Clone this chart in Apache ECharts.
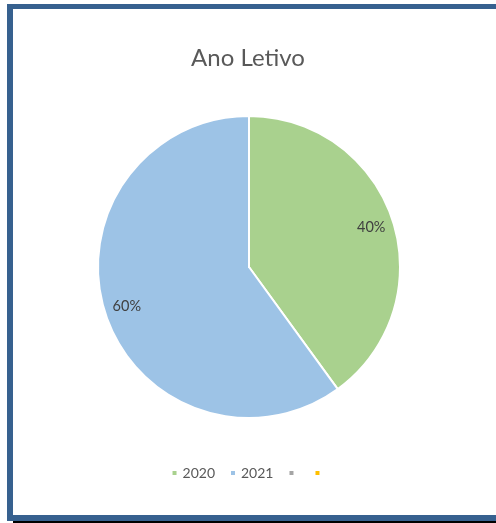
<!DOCTYPE html>
<html>
<head>
<meta charset="utf-8">
<script src="https://cdn.jsdelivr.net/npm/echarts@6/dist/echarts.min.js"></script>
<style>
html,body{margin:0;padding:0;background:#fff;overflow:hidden;}
#chart{position:absolute;left:0;top:0;width:496px;height:523px;}
.b{position:absolute;background:#37618F;}
</style>
</head>
<body>
<div id="chart"></div>
<div class="b" style="left:7px;top:4px;width:489px;height:5px;"></div>
<div class="b" style="left:7px;top:4px;width:6px;height:517px;"></div>
<div class="b" style="left:7px;top:515px;width:489px;height:6px;"></div>
<div style="position:absolute;left:13px;top:521px;width:483px;height:2px;background:#000;"></div>
<script>
const categories = ['2020', '2021', 'Série 3', 'Série 4'];
const legendLabels = ['2020', '2021', '\u200B', '\u200B'];
const values = [40, 60, 0, 0];
const colors = ['#A9D18E', '#9DC3E6', '#A5A5A5', '#FFC000'];

const chart = echarts.init(document.getElementById('chart'));
const font = 'Lato, "Liberation Sans", sans-serif';
const pieData = categories.map((c, i) => ({
  name: c, value: values[i], itemStyle: { color: colors[i] }
}));
chart.setOption({
  animation: false,
  title: {
    text: 'Ano Letivo', left: 'center', top: 41,
    textStyle: { fontFamily: font, fontWeight: 'normal', fontSize: 24, color: '#595959' }
  },
  legend: {
    data: categories, bottom: 38, left: 'center',
    itemWidth: 6, itemHeight: 6, itemGap: 14, icon: 'rect',
    formatter: name => legendLabels[categories.indexOf(name)],
    textStyle: { fontFamily: font, fontSize: 14, color: '#595959' },
    selectedMode: false
  },
  series: [{
    type: 'pie', center: [249, 267], radius: [0, 151], startAngle: 90, clockwise: true,
    stillShowZeroSum: false, silent: true,
    itemStyle: { borderColor: '#fff', borderWidth: 2 },
    label: { show: false }, labelLine: { show: false },
    data: pieData
  }, {
    type: 'pie', center: [249, 267], radius: [100, 151], startAngle: 90, clockwise: true,
    silent: true, legendHoverLink: false,
    itemStyle: { color: 'rgba(0,0,0,0)', borderWidth: 0 },
    label: {
      show: true, position: 'inside', fontFamily: font, fontSize: 14.5, color: '#404040',
      formatter: p => p.value > 0 ? Math.round(p.percent) + '%' : ''
    },
    labelLine: { show: false },
    data: categories.map((c, i) => ({ name: c, value: values[i], itemStyle: { color: 'rgba(0,0,0,0)' } }))
  }]
});
</script>
</body>
</html>
